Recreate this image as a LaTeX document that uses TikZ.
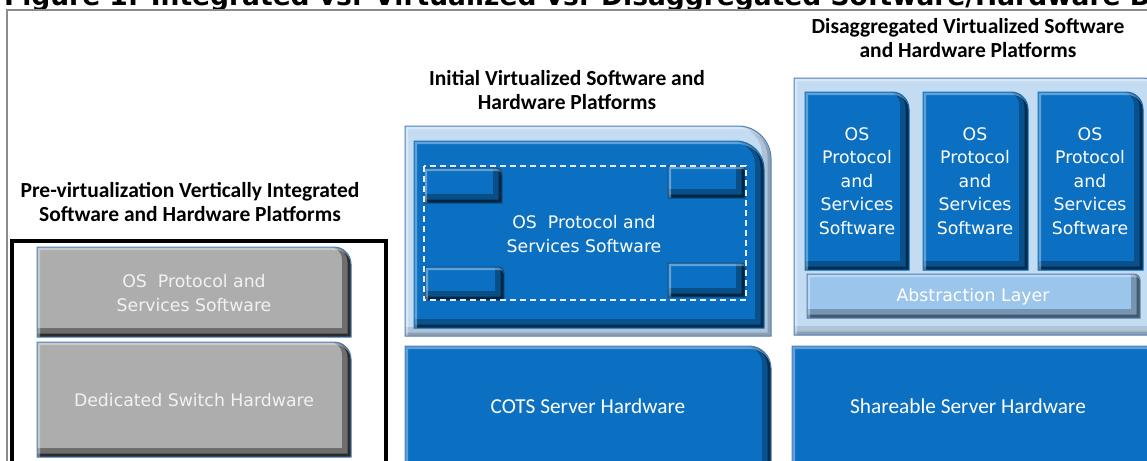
\documentclass[tikz,border=0pt]{standalone}
\usepackage{fontspec}
\setmainfont{Carlito}
\newfontfamily\dv{DejaVu Sans}
\definecolor{dblue}{RGB}{12,112,194}
\definecolor{lblue}{RGB}{196,220,242}
\definecolor{ablue}{RGB}{155,197,234}
\definecolor{gbox}{RGB}{173,173,173}
\definecolor{rimblue}{RGB}{79,129,189}
\definecolor{framegray}{RGB}{140,140,140}
\tikzset{
 head/.style={font=\fontsize{21.5}{24}\selectfont\bfseries, align=center, text=black, inner sep=0pt},
 btext/.style={font=\dv\fontsize{17.3}{23.5}\selectfont, align=center, text=white, inner sep=0pt},
 gtext/.style={btext, text=white!90!gray},
 ctext/.style={font=\fontsize{21.3}{24}\selectfont, text=white, inner sep=0pt},
 dashbox/.style={draw=white!92!blue, line width=1.6pt, dash pattern=on 6pt off 4pt},
 blackframe/.style={draw=black, line width=4pt},
 outerframe/.style={draw=framegray, line width=2pt},
}
% #1 x1, #2 y1, #3 x2, #4 y2, #5 corner radius, #6 fill, #7 border, #8 shadow opacity
\newcommand\tbox[8]{%
 \begin{scope}
  \fill[#6] (#1,#4) -- (#1,#2) -- ({#3-#5},#2) arc[start angle=-90,end angle=0,radius=#5] -- (#3,#4) -- cycle;
  \clip (#1,#4) -- (#1,#2) -- ({#3-#5},#2) arc[start angle=-90,end angle=0,radius=#5] -- (#3,#4) -- cycle;
  \draw[black, opacity=#8*0.6, line width=9pt, shift={(-4.5,-4.5)}] (#1,#4) -- (#1,#2) -- ({#3-#5},#2) arc[start angle=-90,end angle=0,radius=#5] -- (#3,#4) -- cycle;
  \draw[black, opacity=#8, line width=3.5pt, shift={(-1.7,-1.7)}] (#1,#4) -- (#1,#2) -- ({#3-#5},#2) arc[start angle=-90,end angle=0,radius=#5] -- (#3,#4) -- cycle;
  \draw[white, opacity=0.35, line width=3pt, shift={(1.5,1.5)}] (#1,#4) -- (#1,#2) -- ({#3-#5},#2) arc[start angle=-90,end angle=0,radius=#5] -- (#3,#4) -- cycle;
 \end{scope}
 \draw[#7, line width=1pt] (#1,#4) -- (#1,#2) -- ({#3-#5},#2) arc[start angle=-90,end angle=0,radius=#5] -- (#3,#4) -- cycle;
}
\begin{document}
\begin{tikzpicture}[x=1pt,y=-1pt]
\useasboundingbox (0,0) rectangle (1147,460);
\clip (0,0) rectangle (1147,460);
\fill[white] (0,0) rectangle (1147,460);
% title (cut off at the top, as in the source) and outer frame
\node[anchor=base west, font=\dv\bfseries\fontsize{26.5}{30}\selectfont, inner sep=0pt] (title) at (4,6) {Figure 1: Integrated vs. Virtualized vs. Disaggregated Software/Hardware B};
\draw[outerframe] (7,470) -- (7,10) -- (1150,10);

% ---------- left column ----------
\node[head] (hleft) at (190,202) {Pre-virtualization Vertically Integrated\\Software and Hardware Platforms};
\draw[blackframe] (12,241) rectangle (386,470);
\tbox{37}{247}{351}{337}{17}{gbox}{rimblue}{0.6}
\node[gtext] (gsw) at (194,293) {OS\ \ Protocol and\\Services Software};
\tbox{37}{342}{351}{457}{17}{gbox}{rimblue}{0.6}
\node[gtext] (ghw) at (194,400) {Dedicated Switch Hardware};

% ---------- middle column ----------
\node[head] (hmid) at (567,90) {Initial Virtualized Software and\\Hardware Platforms};
\tbox{405}{126}{771}{336}{33}{lblue}{rimblue}{0.18}
\tbox{414}{141}{764}{328}{28}{dblue}{dblue}{0.45}
\tbox{424}{168}{502}{203}{5}{dblue}{dblue!70!black}{0.5}
\tbox{668}{166}{745}{198}{3}{dblue}{dblue!70!black}{0.5}
\tbox{425}{267}{504}{300}{5}{dblue}{dblue!70!black}{0.5}
\tbox{668}{263}{745}{297}{3}{dblue}{dblue!70!black}{0.5}
\draw[dashbox] (424,166) rectangle (746,300);
\node[btext] (vsw) at (584,234) {OS\ \ Protocol and\\Services Software};
\tbox{405}{346}{771}{470}{22}{dblue}{rimblue}{0.45}
\node[ctext] (cots) at (588,406) {COTS Server Hardware};

% ---------- right column ----------
\node[head] (hright) at (968,38) {Disaggregated Virtualized Software\\and Hardware Platforms};
\tbox{794}{78}{1170}{335}{27}{lblue}{rimblue}{0.18}
\tbox{805}{92}{909}{270}{17}{dblue}{dblue}{0.45}
\tbox{923}{92}{1028}{270}{17}{dblue}{dblue}{0.45}
\tbox{1038}{92}{1143}{270}{17}{dblue}{dblue}{0.45}
\node[btext] (c1) at (857,181) {OS\\Protocol\\and\\Services\\Software};
\node[btext] (c2) at (975,181) {OS\\Protocol\\and\\Services\\Software};
\node[btext] (c3) at (1090,181) {OS\\Protocol\\and\\Services\\Software};
\tbox{807}{274}{1140}{318}{6}{ablue}{rimblue}{0.4}
\node[btext] (abs) at (973,297) {Abstraction Layer};
\tbox{792}{346}{1170}{470}{22}{dblue}{rimblue}{0.45}
\node[ctext] (share) at (968,406) {Shareable Server Hardware};
\end{tikzpicture}
\end{document}
